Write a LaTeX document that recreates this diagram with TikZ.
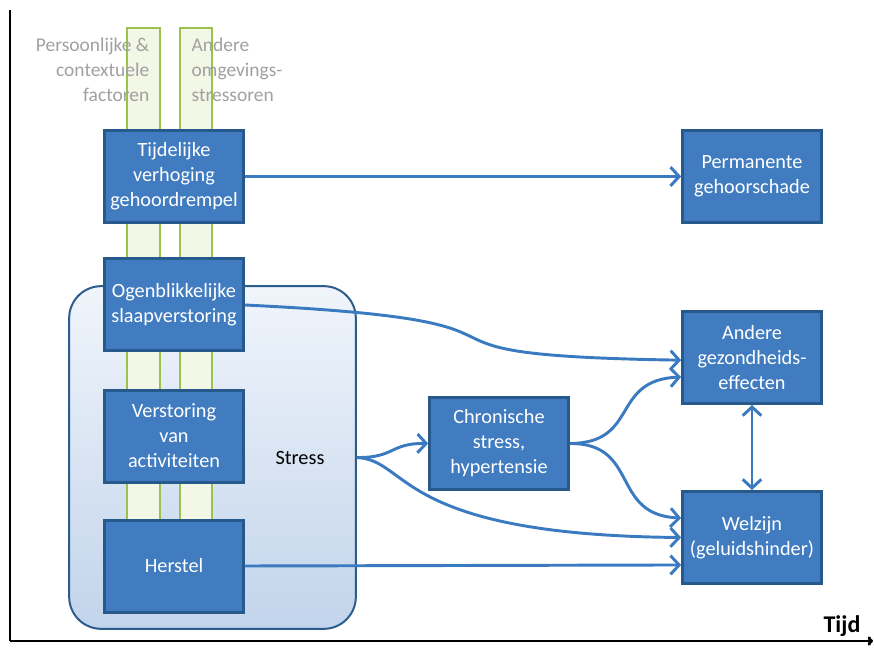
\documentclass[tikz,border=0pt]{standalone}
\usepackage{fontspec}
\setmainfont{Carlito}
\usetikzlibrary{arrows.meta}

\definecolor{boxblue}{RGB}{64,124,191}
\definecolor{boxline}{RGB}{40,89,140}
\definecolor{arrowblue}{RGB}{58,122,192}
\definecolor{barfill}{RGB}{243,247,230}
\definecolor{barline}{RGB}{155,193,80}
\definecolor{stressline}{RGB}{44,92,140}
\definecolor{stresstop}{RGB}{240,245,251}
\definecolor{stressmid}{RGB}{200,217,238}
\definecolor{stressbot}{RGB}{194,212,235}
\definecolor{greytext}{RGB}{160,160,160}

\begin{document}
\begin{tikzpicture}[x=0.75pt, y=-0.75pt]
		\tikzset{every node/.style = {font=\fontsize{15.2}{18.8}\selectfont},
			box/.style = {shape=rectangle, draw=boxline, fill=boxblue, line width=2.25pt, minimum width=104pt, minimum height=69pt, text=white, align=center, inner sep=1pt},
			side/.style = {text=greytext, font=\fontsize{14.6}{18.8}\selectfont},
			effect/.style = {draw=arrowblue, line width=2.2pt, >={Straight Barb[length=6.5pt,width=14pt]}},
			bar/.style = {draw=barline, fill=barfill, line width=1.2pt},
			axis/.style = {draw=black, line width=2.2pt}}

		\useasboundingbox (0,0) rectangle (874,648);

		\node[shape=rectangle, rounded corners=24pt, draw=stressline, line width=1.5pt, top color=stresstop, middle color=stressmid, bottom color=stressbot, minimum width=215pt, minimum height=257pt] (S) at (212.5,457.5) {};
		\node (stress) at (300,458) {Stress};

		\draw[bar] (127,28) rectangle (160,540);
		\draw[bar] (180,28) rectangle (212,540);

		\node[side, align=right, anchor=east] (pers) at (154,70) {Persoonlijke \&\\contextuele\\factoren};
		\node[side, align=left, anchor=west] (omg) at (187,70) {Andere\\omgevings-\\stressoren};

		\node[box] (T) at (174,176.5) {Tijdelijke\\verhoging\\gehoordrempel};
		\node[box] (O) at (174,305) {Ogenblikkelijke\\slaapverstoring};
		\node[box] (V) at (174,436) {Verstoring\\van\\activiteiten};
		\node[box] (H) at (174,566) {Herstel};

		\node[box] (C) at (499,443.5) {Chronische\\stress,\\hypertensie};

		\node[box] (P) at (752,176.5) {Permanente\\gehoorschade};
		\node[box] (A) at (752,357.5) {Andere\\gezondheids-\\effecten};
		\node[box] (W) at (752,537.5) {Welzijn\\(geluidshinder)};




		\draw[effect, ->] (T.east) -- (P.west);
		\draw[effect, ->] (O.east) .. controls (600,322) and (350,355) .. ([yshift=-2pt]A.west);
		\draw[effect, ->] (C.east) .. controls (640,443) and (610,380) .. ([yshift=-14.6pt]A.west);
		\draw[effect, ->] (C.east) .. controls (640,443) and (610,515) .. ([yshift=14.6pt]W.west);
		\draw[effect, ->] (S.east) .. controls (395,458) and (390,443) .. (C.west);
		\draw[effect, ->] (S.east) .. controls (410,460) and (395,535) .. (W.west);
		\draw[effect, ->] (H.east) -- ([yshift=-20.6pt]W.west);
		\draw[effect, <->] (A.south) -- (W.north);


		\coordinate (top) at (10,10);
		\coordinate (origin) at (10,641);
		\coordinate (end) at (873,641);
		\draw[axis] (top) -- (origin);
		\draw[axis, -{To[length=4pt,width=7pt]}] (origin) -- (end);
		\node[font=\fontsize{18}{22}\selectfont\bfseries, anchor=base] (tijd) at (842,632) {Tijd};

	\end{tikzpicture}
\end{document}
